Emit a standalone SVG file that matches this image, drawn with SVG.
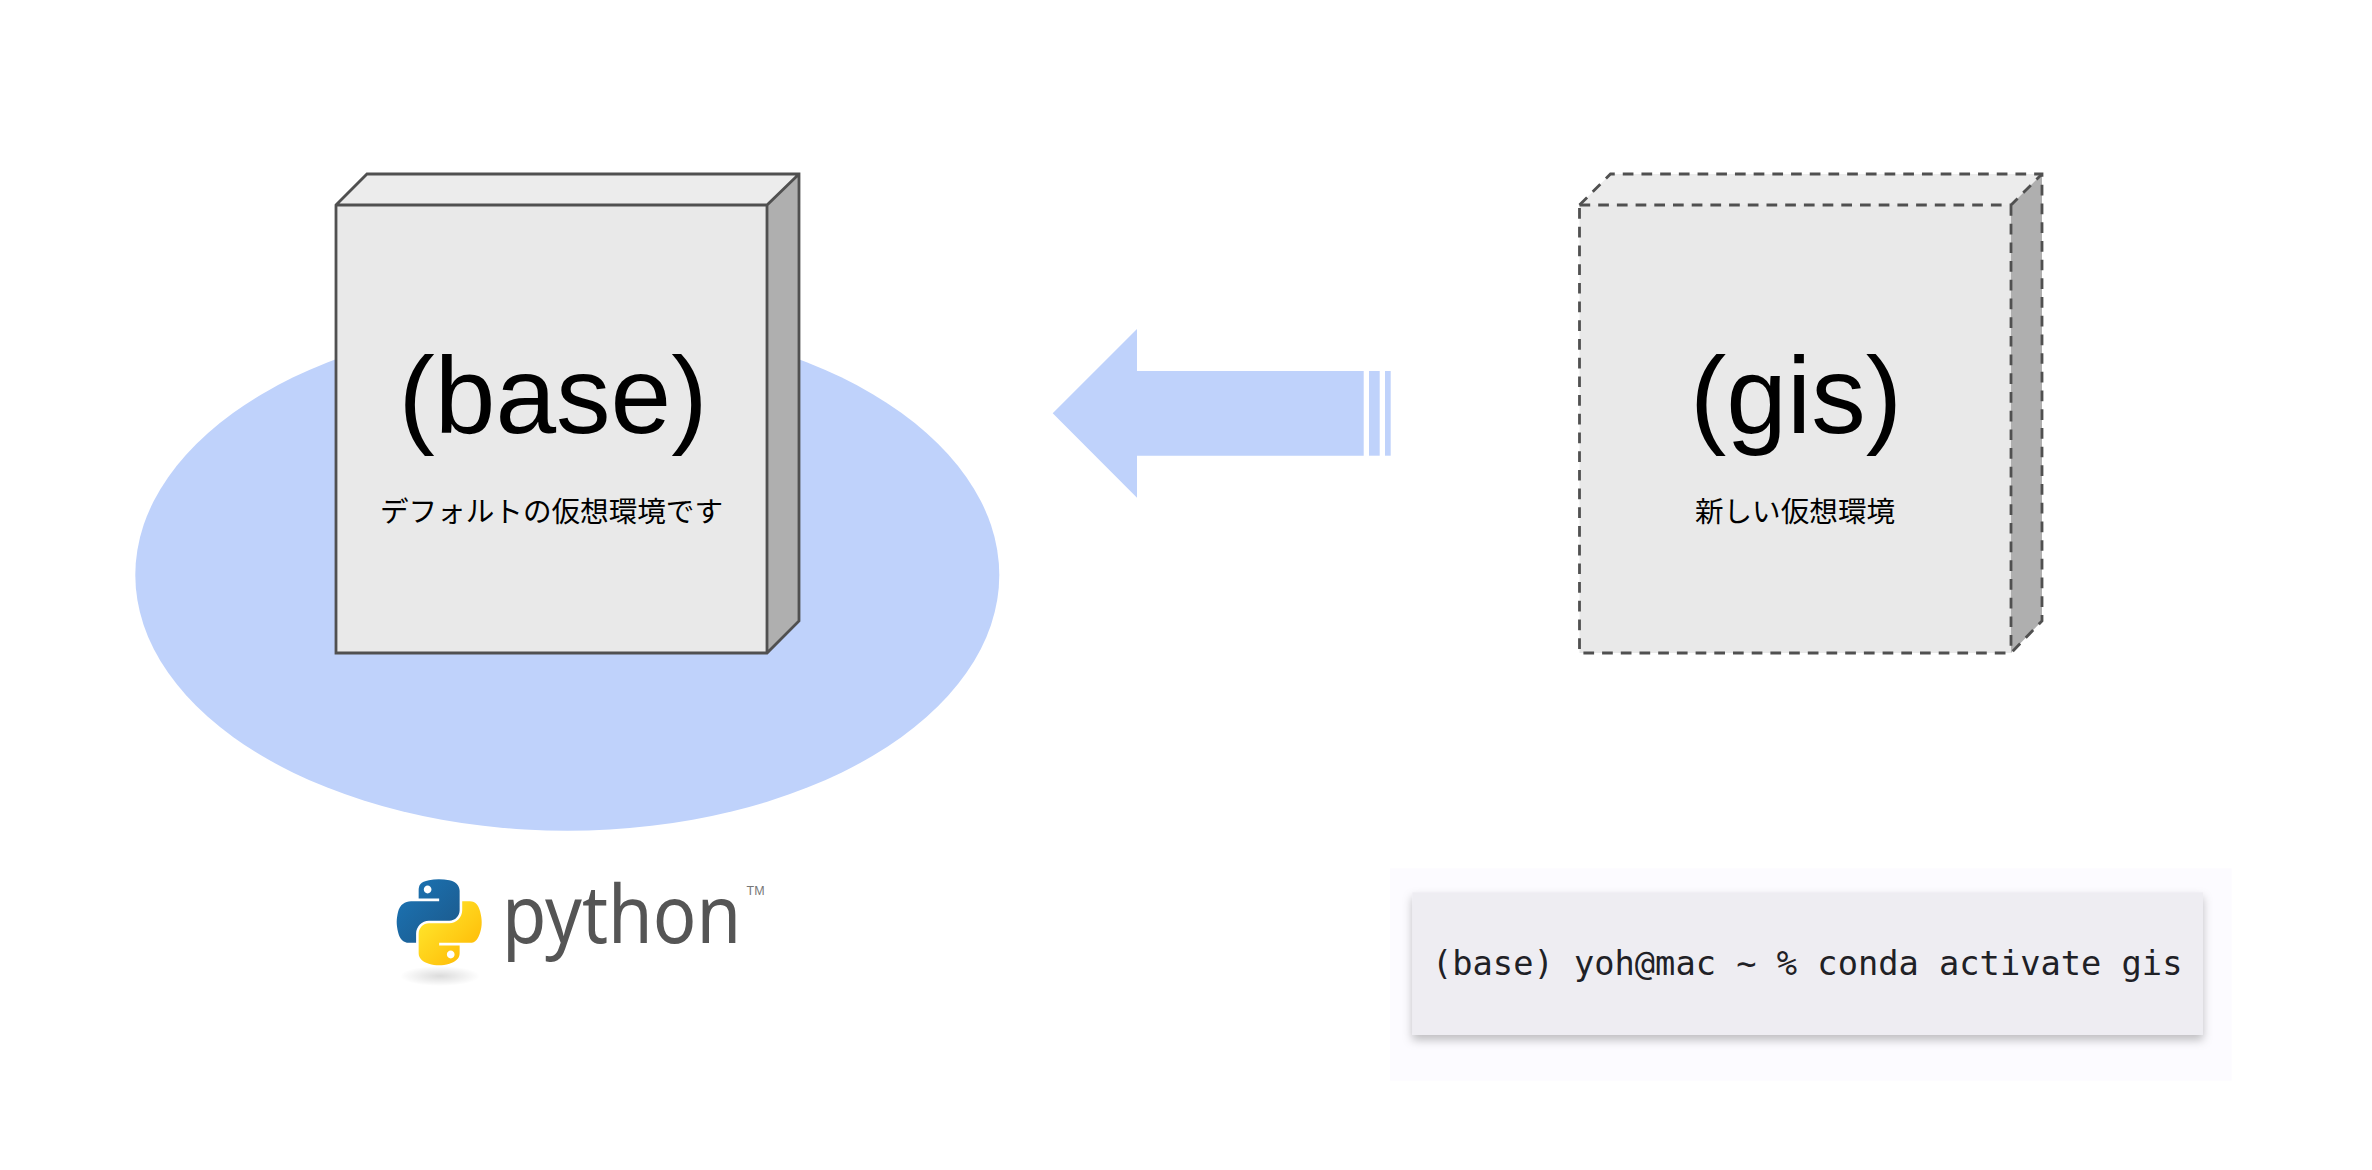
<svg xmlns="http://www.w3.org/2000/svg" width="2372" height="1170" viewBox="0 0 2372 1170">
<style>
.sans{font-family:"Liberation Sans","Noto Sans CJK JP",sans-serif;fill:#000;text-anchor:middle}
.big{font-size:109px}
.sub{font-size:28.6px}
.front{fill:#e9e9e9}
.top{fill:#ececec}
.side{fill:#afafaf}
.solid{fill:none;stroke:#505050;stroke-width:2.8;stroke-linejoin:miter}
.dash{stroke-dasharray:10.7 8}
.flow{fill:#bfd2fb}
</style>
<defs>
<filter id="termShadow" x="-5%" y="-15%" width="110%" height="135%">
<feDropShadow dx="0" dy="5" stdDeviation="5" flood-color="#000" flood-opacity="0.25"/>
</filter>
<linearGradient id="pyBlue" x1="0" y1="0" x2="1" y2="1"><stop offset="0" stop-color="#1b76b8"/><stop offset="1" stop-color="#1c5788"/></linearGradient>
<linearGradient id="pyYellow" x1="0" y1="0" x2="1" y2="1"><stop offset="0" stop-color="#ffee33"/><stop offset="1" stop-color="#ffb300"/></linearGradient>
<radialGradient id="pyShadow"><stop offset="0" stop-color="#000" stop-opacity="0.14"/><stop offset="1" stop-color="#000" stop-opacity="0"/></radialGradient>
</defs>
<rect width="2372" height="1170" fill="#fff"/>
<g id="base-ellipse"><ellipse class="flow" cx="567.3" cy="575" rx="432" ry="255.7"/></g>
<g id="connectors">
<polygon class="flow" points="1052.7,413.3 1137,329 1137,371 1363.7,371 1363.7,455.7 1137,455.7 1137,497.7"/>
<rect class="flow" x="1369" y="371" width="10.7" height="84.7"/>
<rect class="flow" x="1385" y="371" width="5.7" height="84.7"/>
</g>
<g id="node-base">
<polygon class="top" points="336,205 367,174 799,174 767,205"/>
<polygon class="side" points="767,205 799,174 799,621 767,653"/>
<rect class="front" x="336" y="205" width="431" height="448"/>
<path class="solid" d="M336,205 367,174H799V621L767,653H336ZM336,205H767L799,174M767,205V653"/>
<text class="sans big" x="553" y="433">(base)</text>
<text class="sans sub" x="551.5" y="522">デフォルトの仮想環境です</text>
</g>
<g id="node-gis">
<polygon class="top" points="1579.5,205 1610.5,174 2042,174 2011,205"/>
<polygon class="side" points="2011,205 2042,174 2042,621 2011,653"/>
<rect class="front" x="1579.5" y="205" width="431.5" height="448"/>
<path class="solid dash" d="M1579.5,205 1610.5,174H2042V621L2011,653H1579.5Z"/>
<path class="solid dash" d="M1579.5,205H2011L2042,174M2011,205V653"/>
<text class="sans big" x="1796" y="433">(gis)</text>
<text class="sans sub" x="1795" y="522">新しい仮想環境</text>
</g>
<g id="python-logo">
<ellipse cx="440" cy="976" rx="40" ry="10" fill="url(#pyShadow)"/>
<g transform="translate(396.7 879.3) scale(0.765)">
<path fill="url(#pyBlue)" d="M54.919,0C50.335,0.021 45.958,0.412 42.106,1.094 30.760,3.098 28.700,7.294 28.700,15.031V25.25H55.5V28.656H18.642C10.853,28.656 4.033,33.338 1.900,42.245 -0.561,52.454 -0.671,58.825 1.900,69.47 3.805,77.395 8.354,83.042 16.143,83.042H25.357V70.798C25.357,61.953 33.010,54.15 42.106,54.15H68.875C76.326,54.15 82.275,48.015 82.275,40.531V15.031C82.275,7.77 76.15,2.313 68.875,1.094 64.27,0.328 59.492,-0.021 54.919,0ZM40.425,8.219C43.193,8.219 45.454,10.516 45.454,13.34 45.454,16.154 43.193,18.429 40.425,18.429 37.647,18.429 35.396,16.154 35.396,13.34 35.396,10.516 37.647,8.219 40.425,8.219Z"/>
<path fill="url(#pyYellow)" d="M85.638,28.656V40.552C85.638,49.776 77.818,57.54 68.875,57.54H42.106C34.773,57.54 28.7,63.815 28.7,71.158V96.669C28.7,103.93 35.014,108.2 42.106,110.286 50.598,112.783 58.742,113.234 68.875,110.286 75.610,108.336 82.275,104.411 82.275,96.669V86.459H55.5V83.042H95.681C103.472,83.042 106.375,77.608 109.084,69.47 111.883,61.093 111.764,53.036 109.084,42.245 107.159,34.476 103.479,28.656 95.681,28.656ZM70.626,93.22C73.404,93.22 75.655,95.496 75.655,98.31 75.655,101.134 73.404,103.43 70.626,103.43 67.858,103.43 65.597,101.134 65.597,98.31 65.597,95.496 67.858,93.22 70.626,93.22Z"/>
</g>
<text transform="translate(502 943) scale(0.904 1)" font-family="'Noto Sans',sans-serif" font-size="80" fill="#555">python</text>
<text x="746.5" y="895" font-family="'Liberation Sans',sans-serif" font-size="12.5" fill="#777">TM</text>
</g>
<g id="terminal">
<rect x="1390" y="868.3" width="841.7" height="212.4" fill="#fcfbff"/>
<rect x="1412.3" y="892.3" width="790.7" height="142.7" fill="#eeedf2" filter="url(#termShadow)"/>
<text x="1432" y="975" font-family="'DejaVu Sans Mono',monospace" font-size="33.7" fill="#1f2126" xml:space="preserve">(base) yoh@mac ~ % conda activate gis</text>
</g>
</svg>
